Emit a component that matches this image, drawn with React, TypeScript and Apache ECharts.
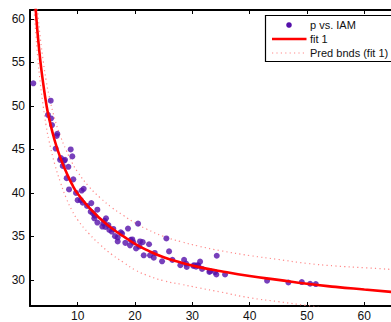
import React, { useEffect, useRef } from 'react';
import * as echarts from 'echarts';

// x ticks / y ticks
const xTicks = [10, 20, 30, 40, 50, 60];
const yTicks = [30, 35, 40, 45, 50, 55, 60];

// data: "p vs. IAM"
const iamValues = [
  2.26, 5.29, 4.82, 5.35, 5.52, 6.44, 6.34, 6.16, 8.78, 9.06, 7.09, 7.79, 6.92, 7.62, 7.39, 8.37,
  8.08, 9.24, 8.49, 9.71, 10.7, 11.05, 10.0, 10.53, 10.88, 11.63, 12.38, 13.43, 12.27, 12.67, 12.97,
  12.9, 13.43, 14.47, 14.94, 14.7, 14.3, 14.82, 15.35, 15.52, 16.22, 15.94, 17.51, 17.74, 16.51,
  16.98, 16.98, 18.78, 20.53, 18.31, 19.25, 19.53, 19.71, 19.13, 20.18, 20.87, 21.34, 20.76, 21.52,
  22.45, 22.62, 23.27, 23.44, 24.72, 25.47, 25.94, 26.52, 27.91, 28.56, 28.91, 29.03, 30.3, 30.65,
  30.88, 31.35, 31.7, 30.18, 31.05, 32.97, 33.09, 33.96, 34.19, 34.26, 35.71, 43.04, 46.76, 49.1,
  50.55, 51.54,
];
const pValues = [
  52.6, 50.6, 48.97, 48.56, 47.8, 46.8, 46.55, 45.1, 45.0, 44.2, 44.0, 43.8, 43.8, 43.7, 43.1, 43.0,
  41.7, 41.56, 40.4, 40.0, 40.27, 40.47, 39.17, 39.17, 38.87, 38.5, 38.83, 38.07, 37.84, 37.65, 37.39,
  37.08, 36.59, 36.51, 37.08, 36.8, 36.13, 36.09, 36.31, 35.75, 35.86, 35.56, 35.48, 35.33, 35.03,
  34.88, 34.42, 35.9, 36.47, 34.26, 34.61, 34.65, 34.31, 33.97, 33.62, 34.42, 34.34, 33.85, 32.83,
  34.1, 32.83, 32.56, 33.1, 32.14, 34.77, 33.28, 32.3, 31.69, 32.3, 31.87, 31.49, 31.69, 31.53,
  31.69, 32.1, 31.26, 31.6, 31.64, 30.92, 31.0, 30.9, 30.62, 32.78, 30.62, 29.9, 29.7, 29.75,
  29.56, 29.52,
];

// fit 1 and prediction bounds
const curveX = [2.4, 2.5, 2.7, 3.0, 3.5, 4.0, 4.5, 5.0, 6.0, 7.0, 8.0, 9.0, 10, 12, 14, 16, 18, 20, 22, 25, 28, 31, 35, 40, 45, 50, 55, 60, 66];
const fitY = [63.6, 62.6, 60.9, 58.4, 55.1, 52.5, 50.3, 48.6, 46.0, 44.0, 42.4, 41.0, 39.9, 38.3, 37.0, 35.9, 35.0, 34.15, 33.45, 32.6, 32.0, 31.5, 31.0, 30.45, 30.0, 29.55, 29.2, 28.9, 28.55];
const upperY = [66.2, 65.2, 63.5, 61.0, 57.7, 55.1, 52.9, 51.2, 48.5, 46.5, 44.9, 43.5, 42.4, 40.7, 39.4, 38.3, 37.4, 36.55, 35.85, 35.0, 34.4, 33.9, 33.35, 32.8, 32.35, 31.9, 31.6, 31.4, 31.15];
const lowerY = [61.0, 60.0, 58.3, 55.8, 52.5, 49.9, 47.7, 46.0, 43.3, 41.2, 39.4, 38.0, 36.9, 35.3, 34.0, 32.9, 32.0, 31.15, 30.55, 29.9, 29.5, 29.1, 28.6, 27.95, 27.5, 27.05, 26.6, 26.3, 25.95];

const legendLabels = ['p vs. IAM', 'fit 1', 'Pred bnds (fit 1)'];

const FONT = 'Liberation Sans, Arial, Helvetica, sans-serif';
const DOT = '#5510aa';
const RED = '#ff0000';
const PINK = '#ff8a8a';

export default function App() {
  const ref = useRef<HTMLDivElement>(null);
  useEffect(() => {
    if (!ref.current) return;
    const chart = echarts.init(ref.current, undefined, { renderer: 'svg' });
    const pts = iamValues.map((x, i) => [x, pValues[i]]);
    const fit = curveX.map((x, i) => [x, fitY[i]]);
    const up = curveX.map((x, i) => [x, upperY[i]]);
    const lo = curveX.map((x, i) => [x, lowerY[i]]);
    const labelStyle = { fontFamily: FONT, fontSize: 12, color: '#111' };
    chart.setOption({
      animation: false,
      backgroundColor: '#fff',
      grid: { left: 30, right: 0, top: 10, bottom: 14, containLabel: false },
      xAxis: [
        {
          type: 'value', min: 1.68, max: 64.66, position: 'bottom',
          axisLine: { show: true, onZero: false, lineStyle: { color: '#000', width: 2 } },
          axisTick: { show: true, inside: true, length: 4, customValues: xTicks, lineStyle: { color: '#000', width: 1 } },
          axisLabel: { customValues: xTicks, margin: 4, ...labelStyle },
          splitLine: { show: false },
        },
        {
          type: 'value', min: 1.68, max: 64.66, position: 'top',
          axisLine: { show: true, onZero: false, lineStyle: { color: '#000', width: 2 } },
          axisTick: { show: true, inside: true, length: 4, customValues: xTicks, lineStyle: { color: '#000', width: 1 } },
          axisLabel: { show: false },
          splitLine: { show: false },
        },
      ],
      yAxis: {
        type: 'value', min: 27.0, max: 61.03,
        axisLine: { show: true, onZero: false, lineStyle: { color: '#000', width: 2 } },
        axisTick: { show: true, inside: true, length: 4, customValues: yTicks, lineStyle: { color: '#000', width: 1 } },
        axisLabel: { customValues: yTicks, margin: 5, ...labelStyle },
        splitLine: { show: false },
      },
      series: [
        {
          type: 'line', data: up, smooth: true, symbol: 'none', clip: true, z: 2,
          lineStyle: { color: PINK, width: 1.2, type: [1.2, 3.2] },
        },
        {
          type: 'line', data: lo, smooth: true, symbol: 'none', clip: true, z: 2,
          lineStyle: { color: PINK, width: 1.2, type: [1.2, 3.2] },
        },
        {
          type: 'scatter', data: pts, symbol: 'circle', symbolSize: 6, z: 3,
          itemStyle: { color: DOT },
        },
        {
          type: 'line', data: fit, smooth: true, symbol: 'none', clip: true, z: 4,
          lineStyle: { color: RED, width: 2.6 },
        },
      ],
      graphic: [
        {
          type: 'rect', shape: { x: 265.5, y: 15.5, width: 140, height: 46 }, z: 100,
          style: { fill: '#fff', stroke: '#000', lineWidth: 1.2 },
        },
        { type: 'circle', shape: { cx: 289, cy: 25, r: 2.8 }, z: 101, style: { fill: DOT } },
        { type: 'line', shape: { x1: 272, y1: 39, x2: 306.5, y2: 39 }, z: 101, style: { stroke: RED, lineWidth: 2.6 } },
        { type: 'line', shape: { x1: 272, y1: 53, x2: 306.5, y2: 53 }, z: 101, style: { stroke: PINK, lineWidth: 1.2, lineDash: [1.2, 3.2] } },
        ...legendLabels.map((t, i) => ({
          type: 'text', x: 310, y: 25 + i * 14, z: 101,
          style: { text: t, font: `11px ${FONT}`, fill: '#111', verticalAlign: 'middle', align: 'left' },
        })),
      ],
    });
    return () => chart.dispose();
  }, []);
  return (
    <div
      ref={ref}
      style={{ position: 'fixed', left: 0, top: 0, width: 391, height: 322 }}
    />
  );
}
